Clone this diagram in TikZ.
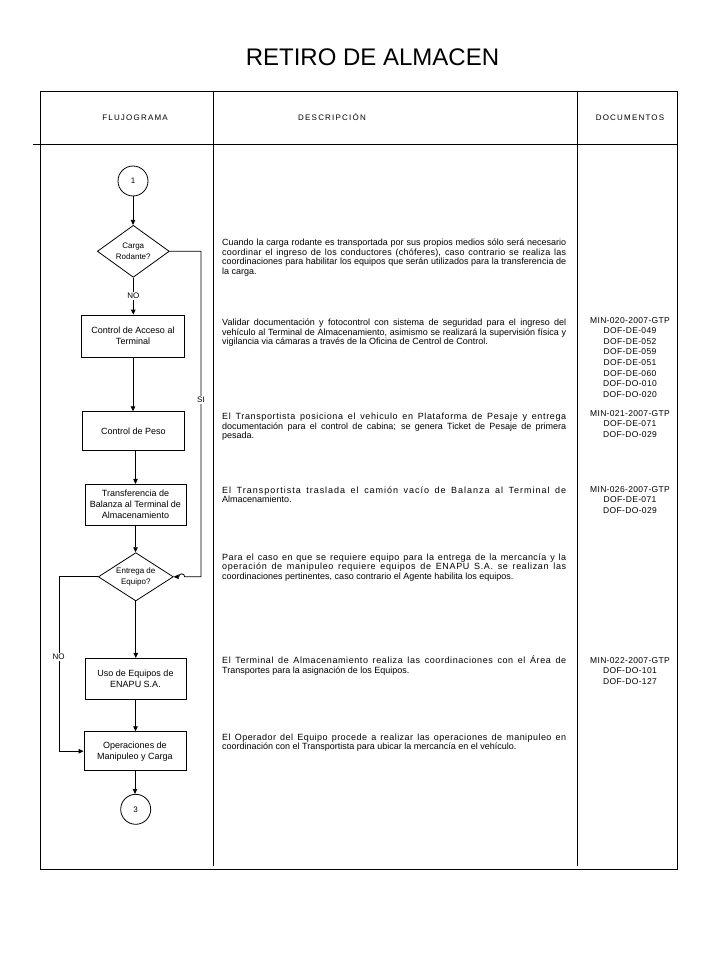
\documentclass[tikz,border=0pt]{standalone}
\usepackage{fontspec}
\setmainfont{Liberation Sans}
\usetikzlibrary{shapes.geometric,arrows.meta}
\newcommand{\lsp}[2]{{\addfontfeatures{LetterSpace=#1}#2}}
\begin{document}
\begin{tikzpicture}[x=1pt,y=-1pt,
  frame/.style={line width=1pt},
  conn/.style={line width=0.8pt},
  arr/.style={conn,-{Triangle[width=4.5pt,length=5pt]}},
  proc/.style={draw,line width=0.8pt,rectangle,inner sep=0pt,align=center,font=\fontsize{9}{11}\selectfont},
  decis/.style={draw,line width=0.8pt,diamond,shape aspect=1.4,inner sep=0pt,align=center,font=\fontsize{8}{11}\selectfont},
  conncirc/.style={draw,line width=0.8pt,circle,minimum size=30pt,inner sep=0pt,font=\fontsize{8}{9}\selectfont},
  lbl/.style={fill=white,inner sep=1pt,font=\fontsize{8}{9}\selectfont},
  desc/.style={anchor=base west,inner sep=0pt,text width=344pt,align=justify,font=\fontsize{9}{9.7}\selectfont},
  docs/.style={anchor=base,inner sep=0pt,text width=100pt,align=center,font=\fontsize{8.5}{10.6}\selectfont\addfontfeatures{LetterSpace=4}},
  hdr/.style={anchor=base,inner sep=0pt,font=\fontsize{8}{9}\selectfont\addfontfeatures{LetterSpace=15}}
]
\useasboundingbox (0,0) rectangle (720,960);

% title
\node (title) at (372.5,57) {\fontsize{24}{28}\selectfont RETIRO DE ALMACEN};

% table frame
\draw[frame] (40,92) rectangle (677,869);
\draw[frame] (33,145) -- (677,145);
\draw[frame] (213,92) -- (213,866);
\draw[frame] (577,92) -- (577,866);

% header
\node[hdr] (h1) at (135,121) {FLUJOGRAMA};
\node[hdr] (h2) at (332,121) {DESCRIPCIÓN};
\node[hdr] (h3) at (630,121) {DOCUMENTOS};

% flowchart
\node[conncirc] (c1) at (133,181) {1};
\node[decis,minimum width=72pt,minimum height=52pt] (d1) at (133.3,251.3) {Carga\\Rodante?};
\node[proc,minimum width=102.6pt,minimum height=42pt] (b1) at (133,336) {Control de Acceso al\\Terminal};
\node[proc,minimum width=102pt,minimum height=39pt] (b2) at (133.3,431.2) {Control de Peso};
\node[proc,minimum width=101pt,minimum height=40.7pt] (b3) at (135.5,504.7) {Transferencia de\\Balanza al Terminal de\\Almacenamiento};
\node[decis,minimum width=75pt,minimum height=48.3pt] (d2) at (135.8,576.8) {Entrega de\\Equipo?};
\node[proc,minimum width=101pt,minimum height=40.7pt] (b4) at (135.5,678.7) {Uso de Equipos de\\ENAPU S.A.};
\node[proc,minimum width=102pt,minimum height=39pt] (b5) at (135,751.2) {Operaciones de\\Manipuleo y Carga};
\node[conncirc] (c3) at (135.7,809.3) {3};

\coordinate (six) at (201,0);
\coordinate (nox) at (59.3,0);

\draw[arr] (c1.south) -- (c1.south |- d1.north);
\draw[arr] (d1.south) -- node[lbl]{NO} (d1.south |- b1.north);
\draw[arr] (b1.south) -- (b1.south |- b2.north);
\draw[arr] (b3.north |- b2.south) -- (b3.north);
\draw[arr] (b3.south) -- (b3.south |- d2.north);
\draw[arr] (d2.south) -- (d2.south |- b4.north);
\draw[arr] (b4.south) -- (b4.south |- b5.north);
\draw[arr] (b5.south) -- (b5.south |- c3.north);

\draw[arr] (d1.east) -| (six |- d2.east) -- ([xshift=11pt]d2.east)
  arc[start angle=0,end angle=180,radius=3pt] -- (d2.east);
\node[lbl] (si) at (201,400) {SI};

\draw[arr] (d2.west) -- (nox |- d2.west) -- (nox |- b5.west) -- (b5.west);
\node[lbl] (no2) at (58.5,656.7) {NO};

% descriptions
\node[desc] (p1) at (222,245.5) {Cuando la carga rodante es transportada por sus propios medios sólo será necesario\linebreak \lsp{2.5}{coordinar el ingreso de los conductores (chóferes), caso contrario se realiza las}\linebreak coordinaciones para habilitar los equipos que serán utilizados para la transferencia de\linebreak la carga.};
\node[desc] (p2) at (222,325.5) {Validar documentación y fotocontrol con sistema de seguridad para el ingreso del\linebreak vehículo al Terminal de Almacenamiento, asimismo se realizará la supervisión física y\linebreak vigilancia via cámaras a través de la Oficina de Centrol de Control.};
\node[desc] (p3) at (222,419.5) {\lsp{7}{El Transportista posiciona el vehiculo en Plataforma de Pesaje y entrega}\linebreak documentación para el control de cabina; se genera Ticket de Pesaje de primera\linebreak pesada.};
\node[desc] (p4) at (222,493) {\lsp{11}{El Transportista traslada el camión vacío de Balanza al Terminal de}\linebreak Almacenamiento.};
\node[desc] (p5) at (222,560) {\lsp{5}{Para el caso en que se requiere equipo para la entrega de la mercancía y la}\linebreak \lsp{7}{operación de manipuleo requiere equipos de ENAPU S.A. se realizan las}\linebreak coordinaciones pertinentes, caso contrario el Agente habilita los equipos.};
\node[desc] (p6) at (222,663.5) {\lsp{6.5}{El Terminal de Almacenamiento realiza las coordinaciones con el Área de}\linebreak Transportes para la asignación de los Equipos.};
\node[desc] (p7) at (222,740) {\lsp{5}{El Operador del Equipo procede a realizar las operaciones de manipuleo en}\linebreak coordinación con el Transportista para ubicar la mercancía en el vehículo.};

% documents
\node[docs] (k1) at (630,323) {MIN-020-2007-GTP\\DOF-DE-049\\DOF-DE-052\\DOF-DE-059\\DOF-DE-051\\DOF-DE-060\\DOF-DO-010\\DOF-DO-020};
\node[docs] (k2) at (630,416) {MIN-021-2007-GTP\\DOF-DE-071\\DOF-DO-029};
\node[docs] (k3) at (630,492) {MIN-026-2007-GTP\\DOF-DE-071\\DOF-DO-029};
\node[docs] (k4) at (630,663) {MIN-022-2007-GTP\\DOF-DO-101\\DOF-DO-127};
\end{tikzpicture}
\end{document}
